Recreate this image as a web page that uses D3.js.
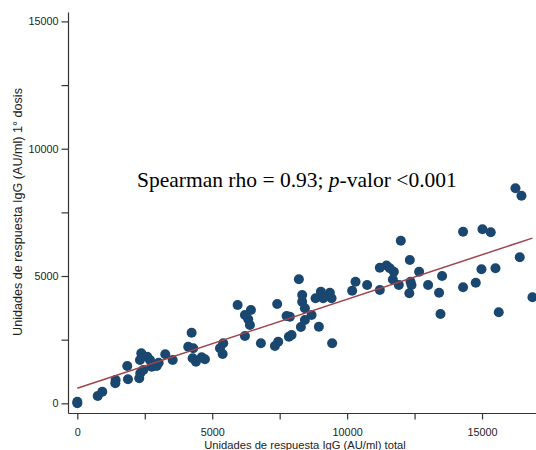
<!DOCTYPE html>
<html>
<head>
<meta charset="utf-8">
<script src="https://cdn.jsdelivr.net/npm/d3@7"></script>
<style>
  body { margin: 0; background: #fff; }
  svg { display: block; }
</style>
</head>
<body>
<div id="chart"></div>
<script>
// IgG total (x) vs IgG 1a dosis (y), AU/ml
const igTotal = [
  0, 0, 756, 926, 1408, 1420, 1878, 1852, 2296, 2334,
  2371, 2322, 2445, 2593, 2693, 2756, 2941, 3015, 3260, 3534,
  4111, 4237, 4297, 4274, 4397, 4608, 4730, 5286, 5408, 5386,
  5941, 6212, 6434, 6334, 6397, 6212, 6804, 7408, 7323, 7445,
  7756, 7878, 7841, 7941, 8286, 8212, 8334, 8334, 8434, 8682,
  8434, 8953, 9445, 8830, 9027, 9112, 9360, 9423, 10186, 10312,
  10742, 11212, 11212, 11460, 11582, 11731, 11694, 11916, 11990, 12323,
  12305, 12386, 12349, 12668, 13001, 13520, 13408, 13460, 14297, 14297,
  14768, 14979, 15016, 15323, 15498, 15620, 16238, 16461, 16398, 16868
];
const igDosis1 = [
  0, 60, 287, 456, 786, 915, 943, 1465, 982, 1178,
  1964, 1701, 1308, 1830, 1701, 1438, 1465, 1595, 1925, 1701,
  2223, 2773, 2160, 1768, 1634, 1807, 1728, 2160, 2357, 1937,
  3861, 3468, 3665, 3300, 3076, 2644, 2357, 3901, 2251, 2420,
  3429, 3402, 2616, 2683, 2997, 4871, 4254, 3991, 3732, 3468,
  3272, 3009, 2357, 4124, 4384, 4124, 4344, 4124, 4423, 4776,
  4647, 4450, 5326, 5413, 5303, 5169, 4863, 4647, 6387, 5629,
  4321, 4647, 4776, 5169, 4647, 5000, 4344, 3508, 6740, 4556,
  4737, 5264, 6835, 6717, 5303, 3574, 8445, 8155, 5735, 4164
];

// fitted line end points
const fitX = [0, 16868];
const fitY = [590, 6490];

const tickVals = [0, 2500, 5000, 7500, 10000, 12500, 15000];
const labelVals = [0, 5000, 10000, 15000];

const annotation = ["Spearman rho = 0.93; ", "p", "-valor <0.001"];
const xTitle = "Unidades de respuesta IgG (AU/ml) total";
const yTitle = "Unidades de respuesta IgG (AU/ml) 1° dosis";

const width = 536, height = 450;
const margin = {top: 12, right: 0, bottom: 37, left: 68};

const svg = d3.select("#chart")
    .append("svg")
    .attr("width", width)
    .attr("height", height);

const x = d3.scaleLinear()
    .domain([-345, 17000])
    .range([margin.left, width - margin.right]);
const y = d3.scaleLinear()
    .domain([-380, 15370])
    .range([height - margin.bottom, margin.top]);

const fmt = d => labelVals.includes(d) ? d : "";

/* axes */
const xAxis = svg.append("g")
    .attr("transform", `translate(0, ${height - margin.bottom})`)
    .call(d3.axisBottom(x).tickValues(tickVals).tickFormat(fmt)
        .tickSize(6.5).tickSizeOuter(0).tickPadding(9));
const yAxis = svg.append("g")
    .attr("transform", `translate(${margin.left}, 0)`)
    .call(d3.axisLeft(y).tickValues(tickVals).tickFormat(fmt)
        .tickSize(6.5).tickSizeOuter(0).tickPadding(3));

[xAxis, yAxis].forEach(g => {
    g.selectAll("path, line").attr("stroke", "#333").attr("stroke-width", 1.2);
    g.selectAll("text")
        .attr("fill", "#222")
        .style("font-family", "'Liberation Sans', Arial, sans-serif")
        .style("font-size", "10.8px");
});

/* points */
svg.append("g")
    .selectAll("circle")
    .data(igTotal.map((v, i) => [v, igDosis1[i]]))
    .join("circle")
    .attr("cx", d => x(d[0]))
    .attr("cy", d => y(d[1]))
    .attr("r", 5)
    .attr("fill", "#1a476f");

/* fitted line */
const line = d3.line()
    .x(d => x(d[0]))
    .y(d => y(d[1]));
svg.append("path")
    .datum(fitX.map((v, i) => [v, fitY[i]]))
    .attr("d", line)
    .attr("fill", "none")
    .attr("stroke", "#a0444a")
    .attr("stroke-width", 1.5);

/* annotation */
const note = svg.append("text")
    .attr("x", 137)
    .attr("y", 187)
    .style("font-family", "'Liberation Serif', 'Times New Roman', serif")
    .style("font-size", "21.5px")
    .attr("fill", "#000");
note.append("tspan").text(annotation[0]);
note.append("tspan").style("font-style", "italic").text(annotation[1]);
note.append("tspan").text(annotation[2]);

/* axis titles */
svg.append("text")
    .attr("x", 305)
    .attr("y", 449)
    .attr("text-anchor", "middle")
    .style("font-family", "'Liberation Sans', Arial, sans-serif")
    .style("font-size", "11.2px")
    .attr("fill", "#222")
    .text(xTitle);

svg.append("text")
    .attr("transform", "translate(22, 212) rotate(-90)")
    .attr("text-anchor", "middle")
    .style("font-family", "'Liberation Sans', Arial, sans-serif")
    .style("font-size", "12.6px")
    .attr("fill", "#222")
    .text(yTitle);
</script>
</body>
</html>
